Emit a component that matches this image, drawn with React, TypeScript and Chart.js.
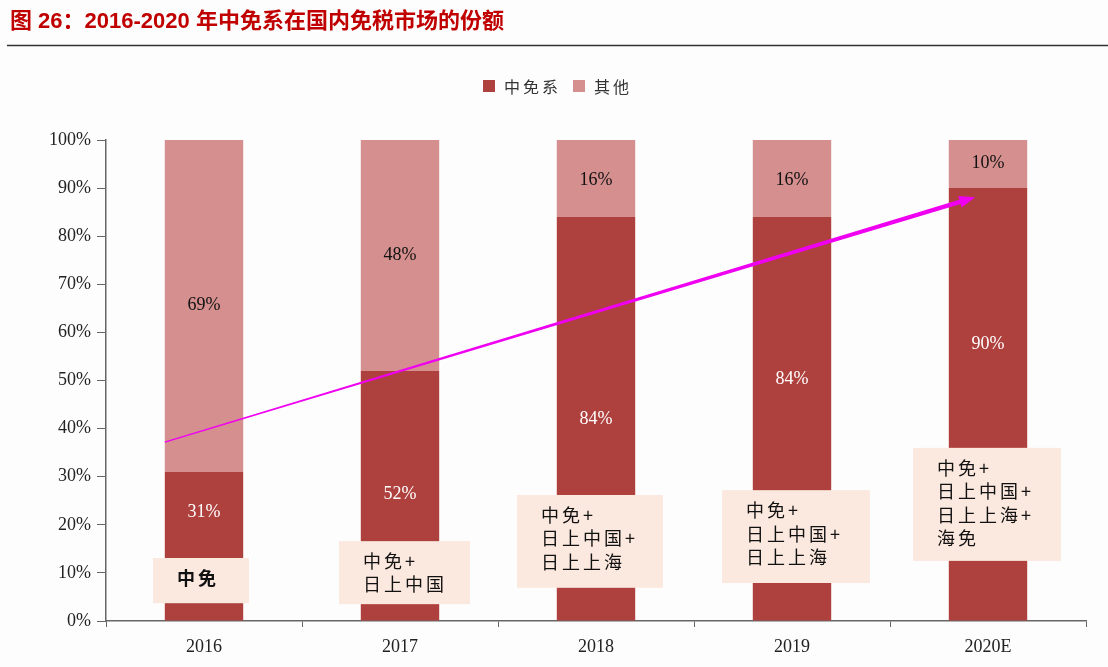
import React, { useEffect, useRef } from 'react';
import { Chart, registerables } from 'chart.js';

Chart.register(...registerables);

// ---- data ----
const categories = ['2016', '2017', '2018', '2019', '2020E'];
const seriesNames = ['中免系', '其他'];
const cdfgShare = [31, 52, 84, 84, 90];
const otherShare = [69, 48, 16, 16, 10];
// value-axis position (in %) where each percentage label sits
const cdfgLabelAt = [22.7, 26.4, 42, 50.3, 57.6];
const otherLabelAt = [65.7, 76.1, 91.7, 91.7, 95.2];
const members = [
  ['中免'],
  ['中免+', '日上中国'],
  ['中免+', '日上中国+', '日上上海'],
  ['中免+', '日上中国+', '日上上海'],
  ['中免+', '日上中国+', '日上上海+', '海免'],
];
const titleText = '图 26：2016-2020 年中免系在国内免税市场的份额';

// ---- layout / style (not data) ----
const W = 1108;
const H = 667;
const DARK = '#AE403D';
const LIGHT = '#D48F8E';
const BOX_FILL = '#FBE8DE';
const boxLayout = [
  { left: -51, right: 45, top: 13.1, bottom: 3.7, bold: true },
  { left: -61, right: 70, top: 16.6, bottom: 3.5, bold: false },
  { left: -79, right: 67, top: 26.2, bottom: 6.9, bold: false },
  { left: -70, right: 78, top: 27.2, bottom: 7.9, bold: false },
  { left: -75, right: 73, top: 36.0, bottom: 12.5, bold: false },
];
const arrowFrom = { cat: -0.2, value: 37.2 };
const arrowTo = { cat: 3.935, value: 88.1 };

const serif = '"Liberation Serif", "DejaVu Serif", serif';
const cjk = '"Noto Sans CJK SC", "Noto Sans", sans-serif';
const titleFont = '"Liberation Sans", "Noto Sans CJK SC", sans-serif';

const decor = {
  id: 'decor',
  beforeDraw(chart: any) {
    const ctx = chart.ctx;
    ctx.save();
    ctx.fillStyle = '#fdfdfd';
    ctx.fillRect(0, 0, chart.width, chart.height);
    // title
    ctx.fillStyle = '#C00000';
    ctx.font = `bold 22px ${titleFont}`;
    ctx.textBaseline = 'middle';
    ctx.textAlign = 'left';
    ctx.fillText(titleText, 10, 22);
    // rule
    ctx.strokeStyle = '#333';
    ctx.lineWidth = 1.5;
    ctx.beginPath();
    ctx.moveTo(7, 45.5);
    ctx.lineTo(W, 45.5);
    ctx.stroke();
    // legend
    const items = [
      { name: seriesNames[0], color: DARK, x: 483 },
      { name: seriesNames[1], color: LIGHT, x: 573 },
    ];
    ctx.font = `16px ${cjk}`;
    (ctx as any).letterSpacing = '3px';
    items.forEach((it) => {
      ctx.fillStyle = it.color;
      ctx.fillRect(it.x, 80, 12, 12);
      ctx.fillStyle = '#333';
      ctx.fillText(it.name, it.x + 21, 87);
    });
    (ctx as any).letterSpacing = '0px';
    ctx.restore();
  },
  afterDatasetsDraw(chart: any) {
    const ctx = chart.ctx;
    const xs = chart.scales.x;
    const ys = chart.scales.y;
    ctx.save();
    // percentage labels
    ctx.font = `18px ${serif}`;
    ctx.textAlign = 'center';
    ctx.textBaseline = 'middle';
    categories.forEach((_, i) => {
      const cx = xs.getPixelForValue(i);
      ctx.fillStyle = '#ffffff';
      ctx.fillText(`${cdfgShare[i]}%`, cx, ys.getPixelForValue(cdfgLabelAt[i]));
      ctx.fillStyle = '#111';
      ctx.fillText(`${otherShare[i]}%`, cx, ys.getPixelForValue(otherLabelAt[i]));
    });
    // arrow
    const x1 = xs.getPixelForValue(arrowFrom.cat);
    const y1 = ys.getPixelForValue(arrowFrom.value);
    const x2 = xs.getPixelForValue(arrowTo.cat);
    const y2 = ys.getPixelForValue(arrowTo.value);
    const len = Math.hypot(x2 - x1, y2 - y1);
    const dx = (x2 - x1) / len;
    const dy = (y2 - y1) / len;
    const nx = -dy;
    const ny = dx;
    const headLen = 16;
    const headHalf = 6;
    const bx = x2 - dx * headLen;
    const by = y2 - dy * headLen;
    ctx.fillStyle = '#F000F0';
    ctx.beginPath();
    ctx.moveTo(x1 + nx * 0.6, y1 + ny * 0.6);
    ctx.lineTo(bx + nx * 2.2, by + ny * 2.2);
    ctx.lineTo(bx + nx * headHalf, by + ny * headHalf);
    ctx.lineTo(x2, y2);
    ctx.lineTo(bx - nx * headHalf, by - ny * headHalf);
    ctx.lineTo(bx - nx * 2.2, by - ny * 2.2);
    ctx.lineTo(x1 - nx * 0.6, y1 - ny * 0.6);
    ctx.closePath();
    ctx.fill();
    // member boxes
    categories.forEach((_, i) => {
      const b = boxLayout[i];
      const cx = xs.getPixelForValue(i);
      const top = ys.getPixelForValue(b.top);
      const bottom = ys.getPixelForValue(b.bottom);
      const left = cx + b.left;
      const right = cx + b.right;
      ctx.fillStyle = BOX_FILL;
      ctx.fillRect(left, top, right - left, bottom - top);
      ctx.fillStyle = '#111';
      ctx.textAlign = 'left';
      ctx.font = `${b.bold ? 'bold ' : ''}18px ${cjk}`;
      (ctx as any).letterSpacing = '3px';
      members[i].forEach((line, k) => {
        ctx.fillText(line, left + 24, top + 20 + k * 23.5);
      });
      (ctx as any).letterSpacing = '0px';
    });
    ctx.restore();
  },
};

export default function App() {
  const ref = useRef<HTMLCanvasElement | null>(null);
  useEffect(() => {
    if (!ref.current) return;
    const chart = new Chart(ref.current, {
      type: 'bar',
      data: {
        labels: categories,
        datasets: [
          { label: seriesNames[0], data: cdfgShare, backgroundColor: DARK, barPercentage: 0.4, categoryPercentage: 1 },
          { label: seriesNames[1], data: otherShare, backgroundColor: LIGHT, barPercentage: 0.4, categoryPercentage: 1 },
        ],
      },
      options: {
        responsive: false,
        devicePixelRatio: 1,
        animation: false,
        layout: { padding: { top: 140, right: 22, bottom: 0, left: 0 } },
        plugins: {
          legend: { display: false },
          title: { display: false },
          tooltip: { enabled: false },
        },
        scales: {
          x: {
            stacked: true,
            afterFit: (s: any) => { s.height = 46; },
            border: { color: '#666', width: 1.5 },
            grid: { display: true, drawOnChartArea: false, drawTicks: true, tickLength: 6, color: '#666', offset: true },
            ticks: { color: '#222', font: { family: serif, size: 18 }, padding: 9 },
          },
          y: {
            stacked: true,
            min: 0,
            max: 100,
            afterFit: (s: any) => { s.width = 106; },
            border: { color: '#666', width: 1.5 },
            grid: { display: true, drawOnChartArea: false, drawTicks: true, tickLength: 9, color: '#666' },
            ticks: {
              stepSize: 10,
              color: '#222',
              padding: 6,
              font: { family: serif, size: 18 },
              callback: (v: any) => `${v}%`,
            },
          },
        },
      },
      plugins: [decor],
    });
    return () => chart.destroy();
  }, []);
  return (
    <div style={{ position: 'absolute', left: 0, top: 0, width: W, height: H, background: '#fdfdfd' }}>
      <canvas ref={ref} width={W} height={H} style={{ display: 'block' }} />
    </div>
  );
}
